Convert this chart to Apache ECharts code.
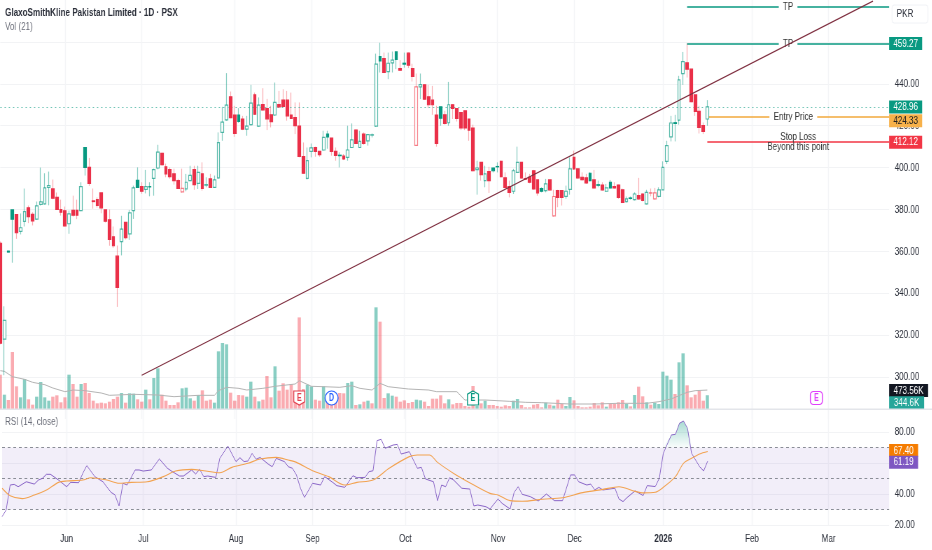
<!DOCTYPE html>
<html><head><meta charset="utf-8">
<style>html,body{margin:0;padding:0;background:#fff;width:932px;height:550px;overflow:hidden}#c{height:550px;transform-origin:0 0}</style>
<script src="https://cdn.jsdelivr.net/npm/echarts@6/dist/echarts.min.js"></script>
</head><body><div id="c"></div>
<script>
const opens=[363.9,318.1,360.1,379.8,377.6,369.6,374.3,380.8,377.7,375.4,
382.4,382.7,390.5,389.8,385.8,380.0,379.4,373.2,379.6,379.6,
379.5,409.5,400.1,384.1,384.7,387.9,379.8,375.1,367.0,357.7,
364.7,373.9,368.4,379.5,393.9,390.9,389.6,390.9,394.9,399.8,
406.8,400.4,399.0,397.0,393.8,388.4,389.8,393.8,399.0,392.5,
397.0,391.9,394.6,390.6,395.1,416.8,422.8,433.8,425.1,425.1,
423.2,418.4,420.5,434.7,419.8,430.1,428.2,425.2,425.1,430.1,
432.2,432.2,425.1,423.9,419.8,405.2,394.9,407.7,409.6,407.7,
408.4,416.0,414.1,407.7,405.9,405.5,404.9,409.6,417.9,409.6,
416.0,412.8,415.7,419.8,453.0,452.0,445.8,450.0,455.2,447.3,
449.8,454.6,447.3,410.6,438.5,439.5,433.8,432.2,425.1,429.0,
425.2,421.4,430.0,428.2,426.3,427.1,423.2,418.9,399.0,402.5,
393.8,398.1,399.8,400.5,403.0,395.1,390.9,388.7,397.7,402.5,
394.7,395.4,398.5,394.1,390.0,389.0,394.1,377.0,389.0,389.0,
386.3,389.6,404.9,399.4,395.4,395.1,397.3,394.1,391.8,391.7,
388.7,393.0,390.9,391.7,389.4,383.8,385.5,384.7,386.6,387.4,
382.7,388.0,385.1,386.3,389.4,403.0,414.7,421.4,422.7,444.9,
450.0,447.0,434.7,426.8,420.0,423.2];
const closes=[316.2,327.1,359.7,375.4,368.9,371.3,379.0,376.6,374.6,381.7,
383.6,390.3,391.4,385.4,380.1,378.7,372.2,377.9,377.3,377.3,
390.9,400.1,392.5,383.8,382.0,380.8,374.4,365.7,362.7,342.8,
370.6,366.6,378.4,390.3,390.6,388.7,390.9,390.8,399.0,407.4,
401.4,397.0,395.7,393.8,390.1,390.1,393.0,396.3,391.9,397.7,
390.1,391.6,390.6,394.1,411.9,421.7,429.8,423.9,416.3,422.0,
418.4,419.8,430.8,425.5,429.8,427.5,423.3,421.9,431.1,429.0,
429.2,424.7,423.5,420.0,405.4,397.3,403.3,409.4,407.7,406.2,
414.4,414.7,407.7,405.8,405.7,404.1,408.4,413.2,411.5,412.5,
411.5,415.7,415.5,449.4,450.9,445.4,449.8,451.3,451.7,446.5,
449.4,448.9,443.5,438.5,439.6,432.7,430.0,430.0,411.5,423.6,
421.1,430.0,428.2,423.5,418.9,418.9,417.9,398.5,399.8,396.6,
397.0,393.8,398.5,400.4,395.7,390.6,388.2,398.5,402.5,395.1,
394.5,393.0,389.8,387.9,388.7,392.2,389.4,386.2,385.8,385.8,
388.7,399.4,399.4,395.1,394.3,392.7,393.8,390.3,391.6,389.4,
390.3,390.3,390.3,385.8,383.4,385.1,385.3,387.4,385.1,384.3,
388.2,387.8,387.9,389.4,400.1,410.5,421.3,421.1,441.9,450.6,
447.0,431.5,426.8,419.2,417.3,428.96];
const highs=[364.7,333.8,360.4,379.8,377.6,378.1,390.0,381.9,378.7,383.8,
400.0,397.3,398.1,394.3,388.1,384.7,381.4,379.5,386.6,384.7,
393.0,409.5,404.6,390.0,385.8,387.9,379.8,380.0,371.9,362.8,
377.0,373.9,379.8,391.4,400.1,393.0,398.9,393.0,399.5,410.9,
407.1,401.9,400.1,399.5,394.7,399.5,397.0,400.9,400.9,400.9,
402.5,395.4,397.0,396.2,416.8,429.0,445.1,436.3,429.5,428.4,
424.7,424.7,439.5,435.8,433.5,437.9,432.8,429.5,440.6,436.6,
437.4,436.6,435.8,431.1,431.1,412.0,409.6,411.5,410.0,407.7,
417.6,417.6,414.1,409.6,407.3,406.5,420.0,421.1,418.4,417.6,
416.8,416.0,416.3,454.4,459.6,454.9,454.9,455.4,455.2,451.3,
454.9,454.9,449.6,444.9,444.9,439.8,439.5,439.0,429.5,429.0,
427.1,440.9,430.3,428.4,426.6,427.1,423.2,420.5,403.3,402.5,
400.9,400.4,400.1,402.5,403.3,397.7,393.8,399.4,410.0,402.5,
397.7,397.0,398.9,394.1,390.6,394.6,394.1,389.4,389.4,389.0,
391.4,404.9,408.1,399.4,397.7,397.0,397.7,398.9,393.8,393.0,
392.2,394.1,393.0,391.9,390.0,386.2,386.2,388.2,395.1,387.7,
389.4,390.0,390.3,390.6,403.0,412.8,424.7,425.2,443.8,455.2,
459.27,447.0,434.7,429.5,421.5,432.2];
const lows=[315.7,300.9,359.5,354.6,366.0,368.1,371.9,373.5,372.4,375.1,
381.9,382.4,382.0,384.9,380.0,377.1,371.9,368.4,376.6,375.4,
379.2,396.2,391.3,380.4,380.9,378.2,373.8,362.7,361.7,333.5,
358.1,365.7,365.5,375.5,390.3,387.5,387.7,386.3,386.6,399.2,
400.9,395.4,394.7,391.9,389.8,388.1,388.7,393.5,389.4,389.8,
389.0,390.6,390.3,390.3,394.6,412.8,422.4,423.6,414.7,421.4,
417.9,415.2,420.0,425.2,419.5,427.1,417.9,419.2,424.7,428.7,
428.7,422.4,423.2,416.0,404.9,397.0,394.3,404.9,405.2,405.2,
408.1,409.0,405.7,403.3,400.1,403.6,403.3,409.4,411.3,409.4,
410.9,410.5,414.4,419.5,445.4,445.1,442.2,445.4,447.0,446.2,
447.7,447.5,441.1,410.4,432.7,432.4,428.4,425.2,410.0,420.0,
420.5,420.0,423.2,422.0,417.9,417.9,412.8,398.2,387.1,393.8,
390.6,387.9,397.7,397.7,395.4,389.8,385.8,387.4,397.4,394.6,
394.1,392.5,389.4,386.6,388.2,388.2,389.0,376.6,381.1,381.9,
385.1,387.1,398.9,394.6,393.8,392.2,393.5,390.0,390.6,389.0,
388.4,390.0,390.0,385.1,383.0,383.3,384.7,384.3,384.6,383.9,
382.4,386.3,384.7,385.8,389.3,401.7,412.5,412.5,420.5,439.5,
443.0,431.2,424.7,416.3,416.0,420.0];
// r solid red, g solid green, h hollow green, p hollow red
const candleKinds=("rhggrhhrrh"+"hhhrrrrhrr"+"hgrrrrrrrr"+"hrhhgrhghh"+"rrrrrphhrh"+"rhrhhhhrrg"+"rhhrhrrrhr"+"rrrrrrhhrr"+"hgrrgrhhrh"+"rhhhgrhhgr"+"grrphrrrrg"+"rhrrrrrrhr"+"hrggrrrhhr"+"rrrrghrprr"+"hhrrrrgrgr"+"hgrrrhghrr"+"hpphhhhghh"+"rrrrrh").split("");
const volumes=[858,358,225,1425,567,292,750,242,108,308,
675,292,208,308,342,167,292,858,625,308,
625,650,400,208,142,158,142,183,250,308,
400,158,392,383,242,183,483,242,775,1017,
358,208,100,100,167,517,533,267,208,350,
467,208,233,158,1442,1650,1617,408,208,350,
342,308,683,308,192,233,825,292,1067,458,
642,483,625,300,2290,500,608,567,233,208,
567,292,250,200,400,392,650,683,100,117,
183,208,142,2542,2183,275,392,333,308,183,
217,150,175,233,217,183,75,258,258,342,
142,242,117,150,150,75,58,575,75,142,
208,100,100,75,58,92,75,208,250,100,
42,42,108,125,42,158,108,83,233,125,
75,300,217,75,42,42,58,150,92,167,
58,125,125,167,225,125,67,350,558,317,
167,108,158,125,933,833,733,375,1167,1392,
592,292,358,458,208,344.6];
const volMaIdx=[0,1,3,6,8,11,13,16,18,21,25,27,33,39,43,49,53,54,56,59,61,65,68,73,74,77,80,84,87,89,92,94,96,101,106,108,113,115,120,126,130,134,141,147,153,160,163,166,170,172,175];
const volMaVals=[958,942,808,742,667,608,525,433,475,458,400,342,367,350,308,342,342,458,542,517,475,517,567,625,708,567,558,542,583,517,475,642,558,500,475,433,433,225,225,192,167,158,125,125,142,142,183,250,417,458,473.56];
const rsiIdx=[0,1,2,3,4,6,8,9,10,11,12,14,16,17,19,20,21,23,25,27,28,29,30,31,33,34,35,37,39,41,42,44,45,47,48,49,50,51,53,54,56,58,59,60,61,62,63,64,66,67,68,70,71,72,73,74,75,
77,79,80,82,83,85,87,88,90,91,92,93,94,95,97,98,99,101,103,104,105,107,108,109,110,111,112,114,116,117,118,120,121,123,124,126,127,128,129,131,133,135,137,139,141,142,143,145,146,147,148,149,152,153,
154,155,157,159,160,162,163,164,166,167,168,169,170,171,173,174,175];
const rsiVals=[25.4,29.7,45.8,46.2,44.7,47.9,46.4,49.0,50.1,52.7,52.7,49.0,44.7,47.5,47.3,53.3,58.3,51.2,47.9,41.1,39.4,32.3,46.9,45.8,55.5,55.5,54.8,55.5,62.6,56.6,54.8,51.6,51.6,55.5,52.9,55.9,51.2,51.6,50.7,63.0,70.9,60.9,63.4,60.9,61.3,66.2,62.4,63.6,59.3,57.6,63.0,60.9,57.6,56.6,52.3,43.7,37.8,
46.9,45.8,51.2,47.5,45.4,44.3,51.8,50.5,50.7,54.4,55.0,74.4,75.3,69.5,71.6,72.0,65.8,67.3,56.6,57.2,49.7,47.9,35.7,45.8,44.7,50.5,49.0,43.7,43.2,32.3,32.9,31.8,30.3,36.8,34.0,30.3,41.1,44.7,39.8,38.3,35.5,40.0,35.7,35.7,52.3,52.3,47.9,45.8,46.4,42.6,44.3,42.6,43.7,36.8,
35.1,37.7,42.0,39.0,45.4,44.8,50.1,66.3,78.1,78.5,85.6,87.1,82.4,66.3,57.6,54.9,61.19];
const rsiMaIdx=[0,2,5,8,11,14,16,20,22,26,29,32,36,40,43,47,50,54,57,61,64,68,71,73,77,81,85,88,92,96,101,103,106,108,112,117,121,123,126,129,134,139,144,149,153,157,159,162,164,167,169,171,173,175];
const rsiMaVals=[43.7,38.9,37.0,39.3,42.6,47.5,48.4,49.0,50.5,49.0,46.9,47.5,47.9,51.2,54.8,55.9,55.0,53.7,57.2,59.8,62.6,63.6,61.9,60.4,55.0,51.2,45.8,47.5,49.0,56.6,64.1,65.2,65.2,60.4,53.3,45.8,40.4,39.3,35.7,35.3,36.6,37.6,40.9,43.0,44.7,41.7,40.7,41.1,44.3,51.2,59.8,63.0,65.8,67.4];
const monthTickIdx=[16,35,58,77,100,123,142,164,186,205];
const monthTickLabels=["Jun","Jul","Aug","Sep","Oct","Nov","Dec","2026","Feb","Mar"];
const barCount=221;
const trendIdx=[35,216];
const trendVals=[300.9,479.5];
const priceTicksShown=[440,420,400,380,360,340,320,300];
const rsiTicksShown=[80,40,20];

// The reference is a horizontally squeezed screenshot: draw wider and squeeze by K.
const K=0.7;
const el=document.getElementById('c');
el.style.width=(932/K)+'px';
el.style.transform='scaleX('+K+')';
const FONT='"Liberation Sans",Roboto,sans-serif';
const GREEN='#089981',RED='#f23645',TXT='#2a2e39';
const categories=Array.from({length:barCount},(_,i)=>{const k=monthTickIdx.indexOf(i);return k>=0?monthTickLabels[k]:''});
const isMonth=(i,v)=>v!=='';
const styleOf={
 h:{fill:'#fff',border:'rgba(8,153,129,.68)',wick:'rgba(8,153,129,.5)'},
 g:{fill:GREEN,border:GREEN,wick:'rgba(8,153,129,.5)'},
 r:{fill:'#ea3049',border:'#ea3049',wick:'rgba(242,54,69,.42)'},
 p:{fill:'#fff',border:'rgba(242,54,69,.62)',wick:'rgba(242,54,69,.42)'}
};
const wickData=opens.map((o,i)=>{const s=styleOf[candleKinds[i]];return{value:[o,closes[i],lows[i],highs[i]],itemStyle:{color:s.wick,color0:s.wick,borderColor:s.wick,borderColor0:s.wick,borderWidth:1.2}}});
const bodyData=opens.map((o,i)=>{const s=styleOf[candleKinds[i]];const c=closes[i];return{value:[o,c,Math.min(o,c),Math.max(o,c)],itemStyle:{color:s.fill,color0:s.fill,borderColor:s.border,borderColor0:s.border,borderWidth:1.2}}});
const volData=volumes.map((v,i)=>({value:v,itemStyle:{color:closes[i]>=opens[i]?'rgba(8,153,129,.48)':'rgba(242,54,69,.42)'}}));
const pairs=(a,b)=>a.map((x,i)=>[x,b[i]]);
const overbought=rsiIdx.map((x,i)=>[x,Math.max(rsiVals[i],70)]).filter(p=>p[0]>=164&&p[0]<=171);

const lastX=barCount-1;
const tag=(y,txt,bg,fg,w,dy)=>({coord:[lastX,y],symbol:'rect',symbolSize:[w/K,13],symbolOffset:[w/K/2,dy||0],
  itemStyle:{color:bg},label:{show:true,position:'inside',formatter:txt,color:fg,fontFamily:FONT,fontSize:11.5}});
const hline=(a,b,y,col,label)=>[{coord:[a,y],lineStyle:{color:col,width:1.5,type:'solid'},label},{coord:[b,y]}];
const mid=(txt,bg,off)=>({show:true,position:'middle',verticalAlign:'middle',distance:0,formatter:txt,color:'#333',fontFamily:FONT,fontSize:11.5,lineHeight:10,backgroundColor:bg,padding:bg?[1,6]:0,offset:off||[0,0]});
const marker=(i,sym,txt,col,w,h)=>({coord:[i,275],symbol:sym,symbolSize:[w/K,h],itemStyle:{color:'#fff',borderColor:col,borderWidth:1.3},
  label:{show:true,position:'inside',formatter:txt,color:col,fontFamily:FONT,fontSize:10,fontWeight:'bold'}});

const chart=echarts.init(el,null,{renderer:'canvas'});
chart.setOption({
 animation:false,backgroundColor:'#fff',
 title:[
  {text:'GlaxoSmithKline Pakistan Limited · 1D · PSX',left:5/K,top:7,padding:0,textStyle:{fontFamily:FONT,fontSize:11.6,fontWeight:'bold',color:'#2a2e39'}},
  {text:'Vol (21)',left:5/K,top:21,padding:0,textStyle:{fontFamily:FONT,fontSize:11.5,fontWeight:'normal',color:'#6a6d78'}},
  {text:'RSI (14, close)',left:5/K,top:416,padding:0,textStyle:{fontFamily:FONT,fontSize:11.5,fontWeight:'normal',color:'#6a6d78'}}
 ],
 grid:[
  {left:0.3/K,width:888.8/K,top:-1,height:420},
  {left:0.3/K,width:888.8/K,top:300,height:109},
  {left:0.3/K,width:888.8/K,top:401,height:124}
 ],
 xAxis:[0,1,2].map(g=>({type:'category',gridIndex:g,data:categories,boundaryGap:false,
   axisLine:{show:false},axisTick:{show:false},
   axisLabel:g===2?{show:true,interval:0,margin:8,color:TXT,fontFamily:FONT,fontSize:11.5,hideOverlap:false,
     formatter:v=>v==='2026'?'{b|2026}':v,rich:{b:{fontWeight:'bold',color:TXT,fontFamily:FONT,fontSize:11.5}}}:{show:false},
   splitLine:{show:g!==1,interval:isMonth,lineStyle:{color:'#f4f5f7',width:1.4}}})),
 yAxis:[
  {type:'value',gridIndex:0,position:'right',min:280,max:480,interval:20,axisLine:{show:false},axisTick:{show:false},
   axisLabel:{margin:8,color:TXT,fontFamily:FONT,fontSize:11.5,formatter:v=>priceTicksShown.includes(v)?v.toFixed(2):''},
   splitLine:{showMinLine:false,showMaxLine:false,lineStyle:{color:'#f2f3f5',width:1}}},
  {type:'value',gridIndex:1,position:'right',min:0,max:2725,show:false,splitLine:{show:false}},
  {type:'value',gridIndex:2,position:'right',min:20,max:100,interval:20,axisLine:{show:false},axisTick:{show:false},
   axisLabel:{margin:8,color:TXT,fontFamily:FONT,fontSize:11.5,formatter:v=>rsiTicksShown.includes(v)?v.toFixed(2):''},
   splitLine:{showMaxLine:false,lineStyle:{color:'#f2f3f5',width:1}}}
 ],
 series:[
  {type:'bar',name:'Volume',xAxisIndex:1,yAxisIndex:1,data:volData,barWidth:3.2/K,z:2,
   markPoint:{silent:true,animation:false,data:[
     marker(74,'path://M0 0H10V10L5 13L0 10Z','E','#e2414f',11,14),
     marker(82,'circle','D','#2962ff',13,14),
     marker(117,'path://M5 0L10 3V13H0V3Z','E',GREEN,11,14),
     marker(202,'roundRect','E','#e040fb',12,13),
     tag(473.56,'473.56K','#131722','#fff',39,0.5),
     tag(344.6,'344.6K','#26a69a','#fff',35,7.5)
   ]}},
  {type:'line',name:'Vol MA',xAxisIndex:1,yAxisIndex:1,data:pairs(volMaIdx,volMaVals),symbol:'none',z:3,lineStyle:{color:'#b4b4b4',width:1}},
  {type:'candlestick',name:'Wicks',xAxisIndex:0,yAxisIndex:0,data:wickData,barWidth:0.4,z:4},
  {type:'candlestick',name:'Price',xAxisIndex:0,yAxisIndex:0,data:bodyData,barWidth:3/K,z:5,
   markLine:{silent:true,symbol:['none','none'],animation:false,data:[
     [{coord:[0,428.96],lineStyle:{color:'rgba(8,153,129,.6)',width:1,type:[2,4]},label:{show:false}},{coord:[lastX,428.96]}]
   ]}},
  {type:'line',name:'Trend',xAxisIndex:0,yAxisIndex:0,data:pairs(trendIdx,trendVals),symbol:'none',z:6,lineStyle:{color:'#7f2f40',width:1.25},
   markLine:{silent:true,symbol:['none','none'],animation:false,data:[
     hline(170,lastX,476.6,GREEN,mid('TP','#fff')),
     hline(170,lastX,459.27,GREEN,mid('TP','#fff')),
     hline(175,lastX,424.33,'#f2a93b',mid('Entry Price','#fff',[-7,0])),
     hline(175,lastX,412.12,'#f23645',mid('Stop Loss\nBeyond this point',null))
   ]},
   markPoint:{silent:true,animation:false,data:[
     tag(459.27,'459.27',GREEN,'#fff',33),
     tag(428.96,'428.96',GREEN,'#fff',33),
     tag(424.33,'424.33','#f7b14a','#222',33,4),
     tag(412.12,'412.12','#f23645','#fff',33)
   ]}},
  {type:'line',name:'RSI overbought',xAxisIndex:2,yAxisIndex:2,data:overbought,symbol:'none',z:3,lineStyle:{opacity:0},
   areaStyle:{origin:70,color:{type:'linear',x:0,y:0,x2:0,y2:1,colorStops:[{offset:0,color:'rgba(8,153,129,.5)'},{offset:1,color:'rgba(8,153,129,.03)'}]}}},
  {type:'line',name:'RSI',xAxisIndex:2,yAxisIndex:2,data:pairs(rsiIdx,rsiVals),symbol:'none',z:5,lineStyle:{color:'#7e57c2',width:1,opacity:.9},
   markArea:{silent:true,itemStyle:{color:'rgba(126,87,194,.1)'},data:[[{xAxis:0,yAxis:30},{xAxis:lastX,yAxis:70}]]},
   markLine:{silent:true,symbol:['none','none'],label:{show:false},animation:false,lineStyle:{color:'#8a8d96',width:1,type:[4,4]},data:[{yAxis:70},{yAxis:50},{yAxis:30}]},
   markPoint:{silent:true,animation:false,data:[
     tag(67.40,'67.40','#f57c00','#fff',29,-1),
     tag(61.19,'61.19','#7e57c2','#fff',29,1)
   ]}},
  {type:'line',name:'RSI MA',xAxisIndex:2,yAxisIndex:2,data:pairs(rsiMaIdx,rsiMaVals),symbol:'none',smooth:0.3,z:6,lineStyle:{color:'#f2a24f',width:1.1}}
 ],
 graphic:[
  {type:'rect',shape:{x:0,y:408.5,width:932/K,height:1.5},style:{fill:'#e3e5ea'},z:20},
  {type:'rect',shape:{x:892/K,y:5,width:36/K,height:18,r:3},style:{fill:'#fff',stroke:'#f0f2f6',lineWidth:1},z:20},
  {type:'text',x:905/K,y:14,style:{text:'PKR',font:'11.5px '+FONT,fill:TXT,textAlign:'center',textVerticalAlign:'middle'},z:21}
 ]
});
</script></body></html>
